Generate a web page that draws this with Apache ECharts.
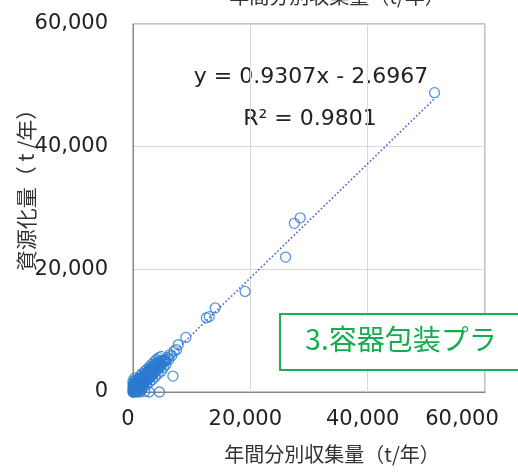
<!DOCTYPE html>
<html>
<head>
<meta charset="utf-8">
<script src="https://cdn.jsdelivr.net/npm/echarts@6/dist/echarts.min.js"></script>
<style>
  html, body { margin: 0; padding: 0; background: #fff; }
  #chart { width: 518px; height: 473px; }
</style>
</head>
<body>
<div id="chart"></div>
<script>
// Annual separately collected amount (t/year) per municipality
const collected = [
  51400, 28500, 27500, 26000, 19100, 14000, 13000, 12500, 9000, 7700, 7400, 7000, 6600, 6800, 6100, 5500,
  0, 30, 80, 120, 0, 0, 20, 60, 150, 200, 250, 300, 350, 400, 450, 500, 550, 600, 650, 700, 750, 800, 850, 900, 950, 1000,
  1050, 1100, 1150, 1200, 1250, 1300, 1350, 1400, 1450, 1500, 1550, 1600, 1650, 1700, 1750, 1800, 1850, 1900, 1950, 2000,
  2100, 2150, 2200, 2300, 2350, 2400, 2500, 2550, 2600, 2700, 2750, 2800, 2900, 2950, 3000,
  3100, 3150, 3200, 3300, 3350, 3400, 3500, 3550, 3600, 3700, 3750, 3800, 3900, 3950, 4000,
  4100, 4200, 4300, 4400, 4500, 4600, 4700, 4800, 4900, 5000, 5200, 5400, 5600, 5900, 6300,
  1200, 2000, 2750, 4500, 600, 900, 1500, 290,
  300, 700, 1000, 1300, 1600, 2000, 2400, 2800, 3200, 3600, 4000, 4400, 4800,
  800, 1300, 1800, 2300, 2800, 3300, 3800, 4300, 4800, 5200, 5600,
  100, 200, 400, 0, 500, 150, 350, 600, 900
];
// Amount recycled (t/year) for the same municipalities
const recycled = [
  48800, 28400, 27500, 22000, 16400, 13700, 12300, 12100, 8900, 7700, 6900, 6700, 5900, 2600, 5300, 5000,
  0, 0, 50, 200, 400, 900, 1400, 600, 300, 100, 450, 700, 250, 600, 900, 300, 750, 1100, 500, 900, 1300, 600, 1000, 1500, 700, 1200,
  1700, 800, 1300, 1900, 1000, 1500, 2100, 1100, 1700, 2300, 1300, 1800, 2400, 1400, 2000, 2600, 1500, 2100, 2800, 1600,
  2300, 2900, 1800, 2500, 3100, 2000, 2700, 3300, 2100, 2900, 3500, 2300, 3100, 3700, 2500,
  3300, 3900, 2700, 3500, 4100, 2900, 3700, 4300, 3100, 3800, 4500, 3300, 4000, 4600, 3500,
  4200, 4800, 3800, 4400, 5000, 4100, 4600, 5100, 4400, 4900, 5200, 5100, 5300, 5600, 6100,
  0, 100, 0, 0, 0, 200, 400, 2300,
  1500, 1800, 2200, 2700, 3000, 3400, 3700, 4100, 4500, 4900, 5300, 5600, 5800,
  100, 500, 800, 1200, 1600, 2000, 2500, 3000, 3400, 4000, 4500,
  800, 1200, 1600, 1800, 2000, 500, 1000, 1400, 1900
];

// Linear trendline coefficients shown on the chart
const slope = 0.9307;
const intercept = -2.6967;
const r2 = 0.9801;

const axisTicks = [0, 20000, 40000, 60000];
const xName = '年間分別収集量（t/年）';
const yName = '資源化量（ t /年）';
const categoryLabel = '3.容器包装プラ';

const points = collected.map((x, i) => [x, recycled[i]]);
const xMax = Math.max.apply(null, collected);
const trend = [0, xMax].map(x => [x, slope * x + intercept]);

const fmt = v => v.toLocaleString('en-US');
const tickFont = 'DejaVu Sans';
const cjkFont = '"Noto Sans CJK JP", "DejaVu Sans"';

const chart = echarts.init(document.getElementById('chart'), null, { renderer: 'canvas' });
chart.setOption({
  animation: false,
  backgroundColor: '#ffffff',
  grid: {
    left: 133, right: 33, top: 24, bottom: 81,
    outerBoundsMode: 'none',
    containLabel: false,
    show: true, borderColor: '#898989', borderWidth: 1
  },
  xAxis: {
    type: 'value',
    min: axisTicks[0], max: axisTicks[axisTicks.length - 1],
    interval: axisTicks[1] - axisTicks[0],
    name: xName,
    nameLocation: 'middle',
    nameGap: 52,
    nameMoveOverlap: false,
    nameTextStyle: {
      fontFamily: cjkFont, fontSize: 20, color: '#333', padding: [0, 0, 0, 46]
    },
    axisLine: { lineStyle: { color: '#868686', width: 1 } },
    axisTick: { show: false },
    splitLine: { lineStyle: { color: '#d9d9d9', width: 1 } },
    axisLabel: {
      margin: 17,
      fontFamily: tickFont, fontSize: 21, color: '#222',
      formatter: v => v === axisTicks[axisTicks.length - 1] ? '{last|' + fmt(v) + '}' : '{n|' + fmt(v) + '}',
      rich: {
        n: { fontFamily: tickFont, fontSize: 21, color: '#222', padding: [0, 10, 0, 0] },
        last: { fontFamily: tickFont, fontSize: 21, color: '#222', padding: [0, 46, 0, 0] }
      }
    }
  },
  yAxis: {
    type: 'value',
    min: axisTicks[0], max: axisTicks[axisTicks.length - 1],
    interval: axisTicks[1] - axisTicks[0],
    name: yName,
    nameLocation: 'middle',
    nameGap: 96,
    nameMoveOverlap: false,
    nameRotate: 90,
    nameTextStyle: {
      fontFamily: cjkFont, fontSize: 21, color: '#333', padding: [0, 0, 0, 46]
    },
    axisLine: { show: true, lineStyle: { color: '#868686', width: 1 } },
    axisTick: { show: false },
    splitLine: { lineStyle: { color: '#d9d9d9', width: 1 } },
    axisLabel: {
      margin: 25,
      fontFamily: tickFont, fontSize: 21, color: '#222',
      padding: [0, 0, 6, 0],
      formatter: fmt
    }
  },
  series: [
    {
      type: 'scatter',
      data: points,
      symbol: 'circle',
      symbolSize: 10,
      itemStyle: { color: 'rgba(0,0,0,0)', borderColor: '#2b7cd0', borderWidth: 1.3 },
      z: 2
    },
    {
      type: 'line',
      data: trend,
      symbol: 'none',
      lineStyle: { color: '#4a5ad6', width: 1.6, type: [1.6, 2.2] },
      z: 3
    }
  ],
  graphic: [
    {
      type: 'text',
      x: 337, y: -4,
      style: {
        text: xName, fontFamily: cjkFont, fontSize: 20, fill: '#333',
        textAlign: 'center', textVerticalAlign: 'middle'
      }
    },
    {
      type: 'text',
      x: 311, y: 77,
      style: {
        text: 'y = ' + slope + 'x - ' + Math.abs(intercept),
        fontFamily: tickFont, fontSize: 22, fill: '#222',
        textAlign: 'center', textVerticalAlign: 'middle'
      }
    },
    {
      type: 'text',
      x: 310, y: 119,
      style: {
        text: 'R² = ' + r2,
        fontFamily: tickFont, fontSize: 22, fill: '#222',
        textAlign: 'center', textVerticalAlign: 'middle'
      }
    },
    {
      type: 'rect',
      shape: { x: 280, y: 314, width: 260, height: 56 },
      style: { fill: '#ffffff', stroke: '#1db053', lineWidth: 2 },
      z: 10
    },
    {
      type: 'text',
      x: 401, y: 339,
      style: {
        text: categoryLabel, fontFamily: cjkFont, fontSize: 28, fill: '#14ad4c',
        textAlign: 'center', textVerticalAlign: 'middle'
      },
      z: 11
    }
  ]
});
</script>
</body>
</html>
